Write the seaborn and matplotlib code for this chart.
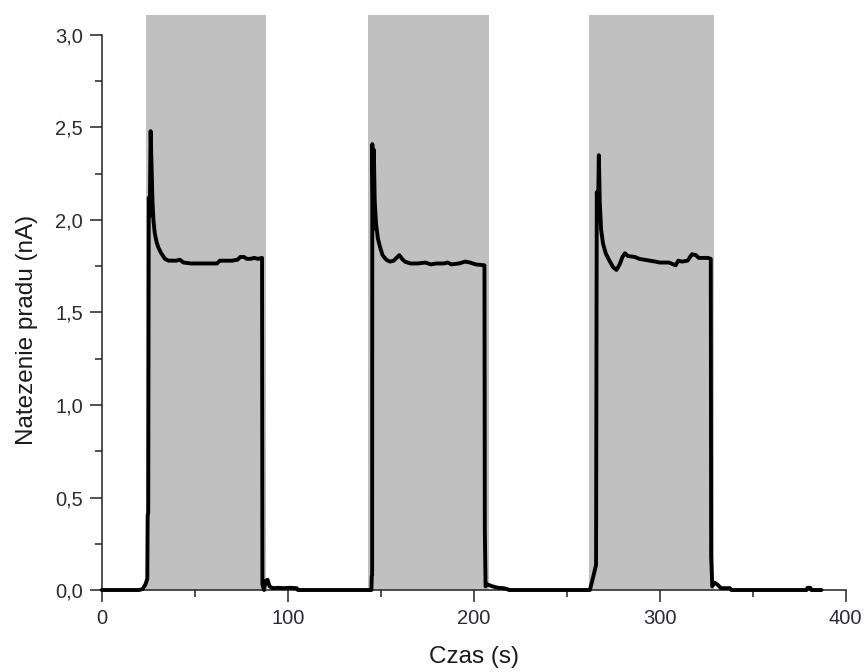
import numpy as np
import pandas as pd
import matplotlib
matplotlib.use("Agg")
import matplotlib.pyplot as plt
import seaborn as sns
from matplotlib.ticker import MultipleLocator, FuncFormatter

# Photocurrent record: time (s) and current (nA)
time_s = [
    0, 20, 22, 23.5, 24.5, 24.7, 25.0, 25.3, 25.8, 26.3, 26.8, 27.3, 27.8, 28.5, 29.5,
    30.5, 32, 34, 36, 40, 42, 44, 48, 55, 62, 63.5, 70, 73, 74.5, 76.5, 78, 80, 82, 84,
    86.2, 86.4, 87.3, 88.2, 89.2, 90.2, 92, 95, 98, 101, 104.8, 105.5,
    145.0, 145.2, 145.4, 145.5, 146.0, 146.3, 146.8, 147.5, 148.5, 149.6, 151, 153, 155,
    157, 159, 160, 161.5, 163, 166, 170, 174, 177, 180, 184, 186, 188, 192, 195.5, 198,
    201, 205.8, 206.0, 206.4, 207.5, 210, 213, 216, 218, 219,
    262.5, 264, 265.8, 266.2, 266.8, 267.3, 267.8, 268.5, 269.5, 271, 273, 275, 276.8,
    278.5, 280, 281.3, 283, 286.7, 289, 292, 295, 297.7, 300, 305, 308.6, 310, 312, 315,
    317.4, 319.5, 321, 326, 327.5, 327.7, 328.3, 329.5, 331, 333, 337.8, 338.5,
    379, 379.5, 381, 381.5, 387,
]
current_nA = [
    0, 0, 0.005, 0.03, 0.06, 0.40, 0.42, 2.12, 2.02, 2.48, 2.30, 2.10, 2.00, 1.93, 1.88,
    1.85, 1.82, 1.79, 1.78, 1.78, 1.785, 1.77, 1.765, 1.765, 1.765, 1.78, 1.78, 1.785, 1.80, 1.80, 1.79, 1.79, 1.795, 1.79,
    1.795, 0.03, 0.0, 0.05, 0.055, 0.02, 0.01, 0.012, 0.01, 0.012, 0.01, 0.0,
    0.0, 0.075, 0.08, 2.41, 1.95, 2.38, 2.10, 1.98, 1.90, 1.855, 1.81, 1.785, 1.775,
    1.78, 1.80, 1.81, 1.79, 1.775, 1.765, 1.765, 1.77, 1.76, 1.765, 1.765, 1.77, 1.76, 1.765, 1.775, 1.77,
    1.76, 1.755, 0.32, 0.02, 0.03, 0.02, 0.012, 0.01, 0.005, 0.0,
    0.0, 0.06, 0.135, 2.15, 2.00, 2.35, 2.10, 1.95, 1.875, 1.82, 1.78, 1.745, 1.73,
    1.76, 1.80, 1.82, 1.805, 1.80, 1.79, 1.785, 1.78, 1.775, 1.77, 1.77, 1.755, 1.78, 1.775, 1.78,
    1.815, 1.81, 1.795, 1.795, 1.79, 0.18, 0.02, 0.04, 0.03, 0.01, 0.01, 0.0,
    0.0, 0.012, 0.012, 0.0, 0.0,
]

# Illumination windows (s)
light_on = [23.8, 143.3, 262.2]
light_off = [88.4, 208.4, 329.2]

x_ticks = [0, 100, 200, 300, 400]
y_ticks = [0.0, 0.5, 1.0, 1.5, 2.0, 2.5, 3.0]

df = pd.DataFrame({"Czas (s)": time_s, "Natezenie pradu (nA)": current_nA})

sns.set_style("ticks")
plt.rcParams["font.family"] = ["Liberation Sans", "DejaVu Sans"]

fig = plt.figure(figsize=(8.65, 6.72), dpi=100)
ax = fig.add_axes([0.1176, 0.122, 0.860, 0.8557])

for t0, t1 in zip(light_on, light_off):
    ax.axvspan(t0, t1, color="#c0c0c0", lw=0, zorder=0)

sns.lineplot(data=df, x="Czas (s)", y="Natezenie pradu (nA)", ax=ax,
             sort=False, estimator=None, color="black", linewidth=2.8,
             clip_on=False, zorder=3)

ax.set_xlim(0, 400)
ax.set_ylim(0, 3.108)
ax.set_xticks(x_ticks)
ax.set_yticks(y_ticks)
ax.xaxis.set_minor_locator(MultipleLocator(50))
ax.yaxis.set_minor_locator(MultipleLocator(0.25))
ax.yaxis.set_major_formatter(FuncFormatter(lambda v, p: f"{v:.1f}".replace(".", ",")))

for side in ("top", "right"):
    ax.spines[side].set_visible(False)
ax.spines["left"].set_bounds(0, 3.0)
for side in ("left", "bottom"):
    ax.spines[side].set_linewidth(1.1)
    ax.spines[side].set_color("#222222")

ax.tick_params(which="major", direction="out", length=8.5, width=1.1,
               color="#222222", labelsize=14.5, labelcolor="#2a2a3a", pad=5)
ax.tick_params(which="minor", direction="out", length=5, width=1.1, color="#222222")

ax.set_xlabel("Czas (s)", fontsize=17.5, color="#1a1a1a", labelpad=13)
ax.set_ylabel("Natezenie pradu (nA)", fontsize=17.5, color="#1a1a1a")
ax.yaxis.set_label_coords(-0.085, 0.452)
ax.set_facecolor("white")

fig.savefig("out.png", dpi=100, facecolor="white")
